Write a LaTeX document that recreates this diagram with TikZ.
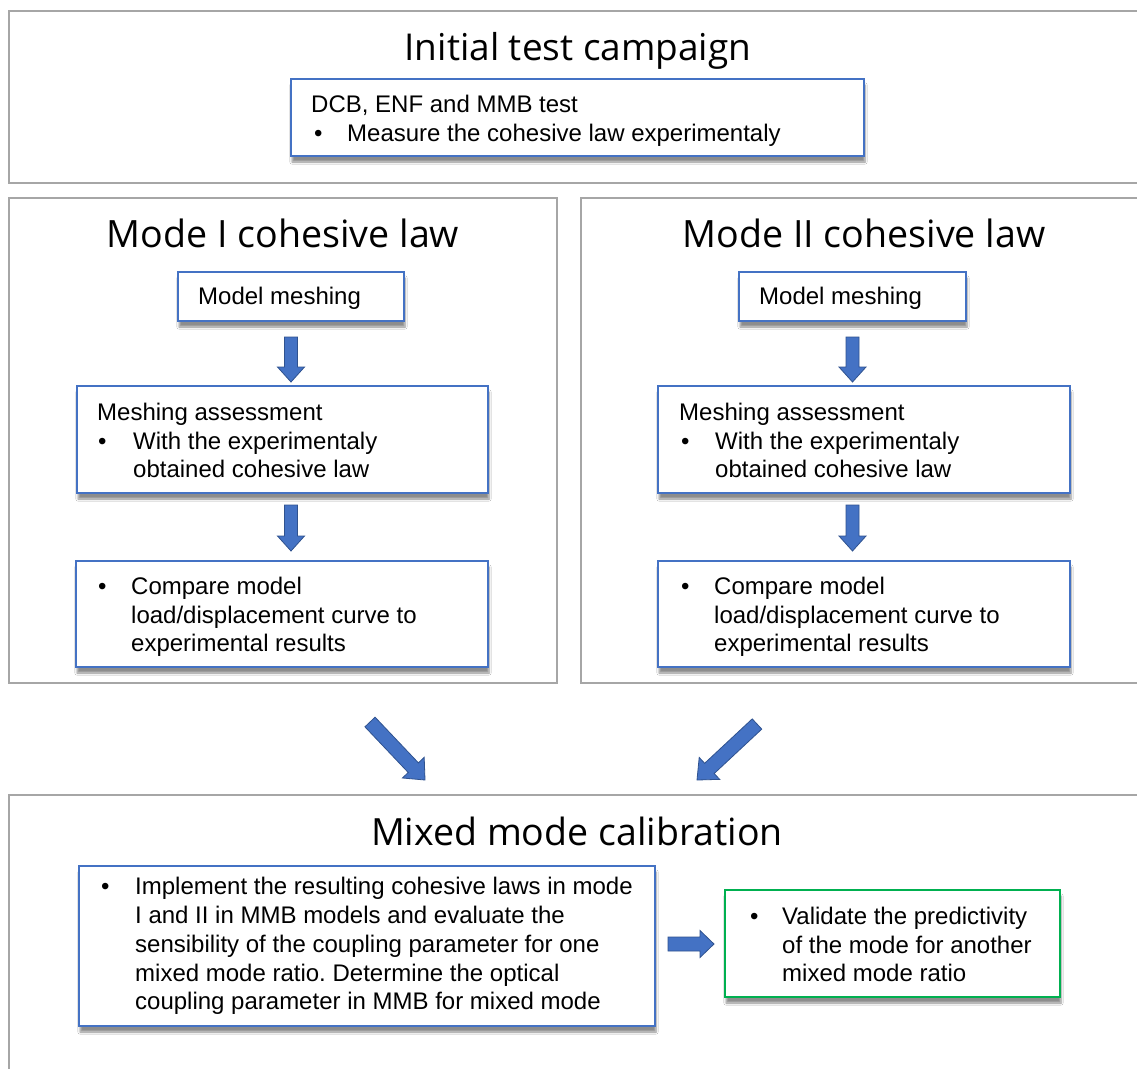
\documentclass[tikz,border=0pt]{standalone}
\usepackage{fontspec}
\setmainfont{Liberation Sans}
\newfontfamily\titlefont{Open Sans}
\usetikzlibrary{calc,shadows.blur}
\frenchspacing
\definecolor{panelgray}{HTML}{A6A6A6}
\definecolor{boxblue}{HTML}{4472C4}
\definecolor{arrowedge}{HTML}{2F528F}
\definecolor{boxgreen}{HTML}{00B050}
\tikzset{
  panel/.style={draw=panelgray, line width=2pt, fill=white, anchor=north west, inner sep=0pt, outer sep=0pt},
  flowbox/.style={draw=boxblue, line width=2pt, fill=white, anchor=north west, inner sep=0pt, outer sep=0pt,
    blur shadow={shadow xshift=1pt, shadow yshift=-6pt, shadow blur steps=6, shadow opacity=45}},
  greenbox/.style={flowbox, draw=boxgreen},
  txt/.style={anchor=base west, inner sep=0pt, font=\fontsize{24}{29}\selectfont},
  ttl/.style={anchor=base, inner sep=0pt, font=\titlefont\fontsize{37}{42}\selectfont},
  blockarrow/.style={fill=boxblue, draw=arrowedge, line width=0.8pt, line join=miter},
}
\newcommand\blkarrow[5]{%
  \coordinate (ba-h) at ($(#2)!#5!(#1)$);
  \filldraw[blockarrow] ($(#1)!#3!90:(#2)$) -- ($(ba-h)!#3!-90:(#1)$) -- ($(ba-h)!#4!-90:(#1)$) -- (#2)
    -- ($(ba-h)!#4!90:(#1)$) -- ($(ba-h)!#3!90:(#1)$) -- ($(#1)!#3!-90:(#2)$) -- cycle;
}
\begin{document}
\begin{tikzpicture}[x=1pt,y=-1pt]
\useasboundingbox (0,0) rectangle (1137,1068);
\fill[white] (0,0) rectangle (1137,1068);
% panels
\node[panel, minimum width=1140, minimum height=172] (p1) at (9,11) {};
\node[panel, minimum width=548, minimum height=485] (p2) at (9,198) {};
\node[panel, minimum width=570, minimum height=485] (p3) at (581,198) {};
\node[panel, minimum width=1140, minimum height=290] (p4) at (9,795) {};
% titles
\node[ttl] (ti1) at (578,60) {Initial test campaign};
\node[ttl, font=\titlefont\fontsize{37.6}{43}\selectfont] (ti2) at (283,247) {Mode I cohesive law};
\node[ttl, font=\titlefont\fontsize{37.6}{43}\selectfont] (ti3) at (864,247) {Mode II cohesive law};
\node[ttl, font=\titlefont\fontsize{37.5}{43}\selectfont] (ti4) at (577,845) {Mixed mode calibration};
% boxes
\node[flowbox, minimum width=573, minimum height=77] (t1) at (291,79) {};
\node[flowbox, minimum width=226, minimum height=49] (m1a) at (178,272) {};
\node[flowbox, minimum width=411, minimum height=107] (m1b) at (77,386) {};
\node[flowbox, minimum width=412, minimum height=106] (m1c) at (76,561) {};
\node[flowbox, minimum width=227, minimum height=49] (m2a) at (739,272) {};
\node[flowbox, minimum width=412, minimum height=107] (m2b) at (658,386) {};
\node[flowbox, minimum width=412, minimum height=106] (m2c) at (658,561) {};
\node[flowbox, minimum width=576, minimum height=160] (b1) at (79,866) {};
\node[greenbox, minimum width=335, minimum height=107] (g1) at (725,890) {};
% texts
\node[txt] (t1l1) at (311,112) {DCB, ENF and MMB test};
\node[txt] (t1b) at (314,141) {\textbullet};
\node[txt] (t1l2) at (347,141) {Measure the cohesive law experimentaly};

\node[txt] (m1al) at (198,304) {Model meshing};
\node[txt] (m1bl1) at (97,420) {Meshing assessment};
\node[txt] (m1bb) at (98,449) {\textbullet};
\node[txt] (m1bl2) at (133,449) {With the experimentaly};
\node[txt] (m1bl3) at (133,477) {obtained cohesive law};
\node[txt] (m1cb) at (98,594) {\textbullet};
\node[txt] (m1cl1) at (131,594) {Compare model};
\node[txt] (m1cl2) at (131,623) {load/displacement curve to};
\node[txt] (m1cl3) at (131,651) {experimental results};

\node[txt] (m2al) at (759,304) {Model meshing};
\node[txt] (m2bl1) at (679,420) {Meshing assessment};
\node[txt] (m2bb) at (681,449) {\textbullet};
\node[txt] (m2bl2) at (715,449) {With the experimentaly};
\node[txt] (m2bl3) at (715,477) {obtained cohesive law};
\node[txt] (m2cb) at (681,594) {\textbullet};
\node[txt] (m2cl1) at (714,594) {Compare model};
\node[txt] (m2cl2) at (714,623) {load/displacement curve to};
\node[txt] (m2cl3) at (714,651) {experimental results};

\node[txt] (b1b) at (101,894) {\textbullet};
\node[txt] (b1l1) at (135,894) {Implement the resulting cohesive laws in mode};
\node[txt] (b1l2) at (135,923) {I and II in MMB models and evaluate the};
\node[txt] (b1l3) at (135,952) {sensibility of the coupling parameter for one};
\node[txt] (b1l4) at (135,981) {mixed mode ratio. Determine the optical};
\node[txt] (b1l5) at (135,1009) {coupling parameter in MMB for mixed mode};

\node[txt] (g1b) at (750,924) {\textbullet};
\node[txt] (g1l1) at (782,924) {Validate the predictivity};
\node[txt] (g1l2) at (782,953) {of the mode for another};
\node[txt] (g1l3) at (782,981) {mixed mode ratio};
% arrows
\coordinate (a1s) at ($(m1a.south)+(0,16)$);
\coordinate (a1e) at ($(a1s |- m1b.north)+(0,-4)$);
\blkarrow{a1s}{a1e}{6.5pt}{13.5pt}{15pt}
\coordinate (a2s) at ($(a1s |- m1b.south)+(0,12)$);
\coordinate (a2e) at ($(a1s |- m1c.north)+(0,-10)$);
\blkarrow{a2s}{a2e}{6.5pt}{13.5pt}{15pt}
\coordinate (a3s) at ($(m2a.south)+(0,16)$);
\coordinate (a3e) at ($(a3s |- m2b.north)+(0,-4)$);
\blkarrow{a3s}{a3e}{6.5pt}{13.5pt}{15pt}
\coordinate (a4s) at ($(a3s |- m2b.south)+(0,12)$);
\coordinate (a4e) at ($(a3s |- m2c.north)+(0,-10)$);
\blkarrow{a4s}{a4e}{6.5pt}{13.5pt}{15pt}
\coordinate (d1s) at ($(p2.south east)+(-187,39)$);
\coordinate (d1e) at ($(p4.north west)+(416,-15)$);
\blkarrow{d1s}{d1e}{7pt}{15pt}{17pt}
\coordinate (d2s) at ($(p3.south west)+(176,41)$);
\coordinate (d2e) at ($(p4.north west)+(688,-15)$);
\blkarrow{d2s}{d2e}{7pt}{15pt}{17pt}
\coordinate (r1s) at ($(b1.east)+(13,-2)$);
\coordinate (r1e) at ($(r1s -| g1.west)+(-11,0)$);
\blkarrow{r1s}{r1e}{7pt}{13.5pt}{14pt}
\end{tikzpicture}
\end{document}
